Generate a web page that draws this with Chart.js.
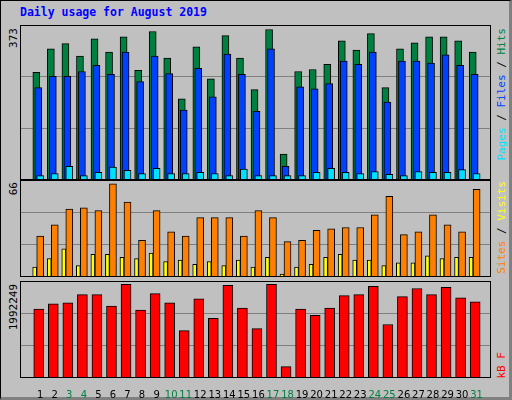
<!DOCTYPE html>
<html><head><meta charset="utf-8">
<script src="https://cdn.jsdelivr.net/npm/chart.js@4"></script>
<style>
html,body{margin:0;padding:0;background:#c0c0c0;}
#frame{position:absolute;left:0;top:0;width:508px;height:396px;border:1px solid #000;border-right:3px solid #808080;border-bottom:3px solid #808080;box-sizing:content-box;}
.box{position:absolute;}
.vt{position:absolute;writing-mode:vertical-rl;transform:rotate(180deg);font:11px "DejaVu Sans Mono",monospace;white-space:nowrap;}
#title{position:absolute;left:20px;top:5px;font:bold 11.5px "DejaVu Sans Mono",monospace;color:#0000ff;}
</style></head><body>
<div id="frame"></div>
<div id="title">Daily usage for August 2019</div>
<div class="box" style="left:20px;top:25px;width:471px;height:155px"><canvas id="c1"></canvas></div>
<div class="box" style="left:20px;top:180px;width:471px;height:97px"><canvas id="c2"></canvas></div>
<div class="box" style="left:20px;top:281px;width:471px;height:118px"><canvas id="c3"></canvas></div>
<div class="vt" style="left:7px;top:28px;color:#000">373</div>
<div class="vt" style="left:7px;top:182px;color:#000">66</div>
<div class="vt" style="left:7px;top:284px;color:#000">1992249</div>
<div class="vt" style="left:495px;top:28px"><span style="color:#00e0ff">Pages</span><span style="color:#000"> / </span><span style="color:#0040ff">Files</span><span style="color:#000"> / </span><span style="color:#008040">Hits</span></div>
<div class="vt" style="left:495px;top:181px"><span style="color:#ff8000">Sites</span><span style="color:#000"> / </span><span style="color:#ffff00">Visits</span></div>
<div class="vt" style="left:495px;top:352px;color:#ff0000">kB F</div>
<script>
const days=[1,2,3,4,5,6,7,8,9,10,11,12,13,14,15,16,17,18,19,20,21,22,23,24,25,26,27,28,29,30,31];
const weekend=[3,4,10,11,17,18,24,25,31];
const hits=[267,325,338,307,350,317,355,272,368,302,201,330,251,358,302,224,373,64,269,274,287,345,322,363,229,325,340,355,355,345,317];
const files=[229,257,257,269,284,262,317,244,307,264,173,277,206,312,262,170,325,34,231,226,239,295,287,317,193,295,295,290,310,284,262];
const pages=[11,16,34,11,19,32,24,16,29,16,16,19,16,11,27,11,11,11,11,19,29,19,16,21,14,11,21,19,19,26,16];
const visits=[29,37,48,49,47,66,53,26,47,32,29,42,42,42,29,47,42,25,26,33,34,35,35,44,57,30,32,44,37,32,62];
const sites=[7,13,20,8,16,16,14,13,17,11,12,9,11,8,12,7,14,2,7,9,14,16,12,12,8,10,10,15,13,14,14];
const kbytes=[1467000,1576000,1598000,1773000,1773000,1532000,1992249,1445000,1795000,1598000,1007000,1686000,1270000,1970000,1489000,1051000,1992249,241000,1467000,1336000,1489000,1752000,1773000,1949000,1138000,1730000,1905000,1773000,1927000,1708000,1620000];
const yTop=[373,66,1992249];

const XMIN=0.233, XMAX=31.567;
const pts=(arr,off)=>arr.map((v,i)=>({x:days[i]+off,y:v}));
const frame={id:'frame',afterDraw(c){const a=c.chartArea,g=c.ctx;g.save();g.strokeStyle='#000';g.lineWidth=1;g.strokeRect(a.left+0.5,a.top+0.5,a.right-a.left-1,a.bottom-a.top-1);g.restore();}};
function ds(data,color,w,off,order){return {data:pts(data,off),order:order,backgroundColor:color,borderColor:'#000',borderWidth:1,barThickness:w,grouped:false,borderSkipped:false};}
function make(id,sets,max,showX){
  const grid=[max/3,2*max/3];
  return new Chart(document.getElementById(id),{type:'bar',data:{datasets:sets},plugins:[frame],
   options:{responsive:true,maintainAspectRatio:false,animation:false,events:[],layout:{padding:0},
    plugins:{legend:{display:false},tooltip:{enabled:false}},
    scales:{
     x:{type:'linear',min:XMIN,max:XMAX,display:showX,grid:{display:false},border:{display:false},
        afterBuildTicks:s=>{s.ticks=days.map(d=>({value:d+0.1}));},
        afterFit:s=>{s.height=showX?21:0;},
        ticks:{autoSkip:false,maxRotation:0,padding:3,font:{family:'DejaVu Sans',size:10},
          color:c=>weekend.includes(Math.round(c.tick.value-0.1))?'#008040':'#000',
          callback:v=>String(Math.round(v-0.1))}},
     y:{min:0,max:max,display:true,border:{display:false},
        afterFit:s=>{s.width=0;},
        afterBuildTicks:s=>{s.ticks=grid.map(v=>({value:v}));},
        ticks:{display:false},grid:{color:'#808080',lineWidth:1,drawTicks:false}}}}});
}
make('c1',[ds(hits,'#008040',7,-0.167,3),ds(files,'#0040ff',7,-0.033,2),ds(pages,'#00e0ff',7,0.1,1)],yTop[0]*1.03,false);
make('c2',[ds(sites,'#ffff00',4,-0.28,2),ds(visits,'#ff8000',7,0.1,1)],yTop[1]*1.04,false);
make('c3',[ds(kbytes,'#ff0000',10,0,1)],yTop[2]*1.036,true);
</script></body></html>
